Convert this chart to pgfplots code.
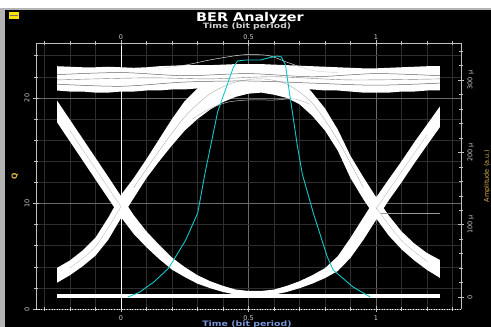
\documentclass[border=0pt]{standalone}
\usepackage{fontspec}
\setmainfont{DejaVu Sans}
\usepackage{pgfplots}
\pgfplotsset{compat=1.18}
\usepackage{pgfplotstable}
\usepgfplotslibrary{fillbetween}
\definecolor{framegray}{HTML}{C0C0C0}
\definecolor{labgray}{HTML}{D0D0D0}
\definecolor{mingrid}{HTML}{2E2E2E}
\definecolor{majgrid}{HTML}{6A6A6A}
\definecolor{cyanline}{HTML}{10C8C8}
\definecolor{gold}{HTML}{E0B848}
\definecolor{timeblue}{HTML}{7896D8}
\definecolor{bordergray}{HTML}{B4B4B4}

% eye diagram bands: U (0->1 falling/rising), A (arch), R (ones rail); hi/lo edges in Q
\pgfplotstableread{
x     Uhi   Ulo   Ahi   Alo   Rhi   Rlo
-0.25 19.73 17.67 3.90  2.50  23.00 20.70
-0.20 17.93 15.87 4.60  3.20  22.95 20.60
-0.15 16.13 14.07 5.55  4.05  22.90 20.60
-0.10 14.33 12.27 6.75  5.05  22.90 20.50
-0.05 12.53 10.47 8.65  6.55  22.95 20.50
0.00  10.70 8.70  10.80 8.60  22.90 20.60
0.05  8.89  7.11  12.40 10.50 22.85 20.60
0.10  7.35  5.85  14.20 12.40 22.90 20.70
0.15  6.07  4.73  16.10 14.00 23.00 20.70
0.20  4.87  3.73  18.00 15.50 23.05 20.80
0.25  3.97  3.03  19.70 16.90 23.10 20.80
0.30  3.20  2.40  20.90 18.00 23.10 20.90
0.35  2.63  1.97  21.80 18.90 23.10 20.90
0.40  2.19  1.61  22.40 19.60 23.15 21.00
0.45  1.84  1.36  22.80 20.10 23.20 21.00
0.50  1.71  1.29  22.90 20.40 23.20 21.00
0.55  1.71  1.29  23.00 20.50 23.20 21.00
0.60  1.84  1.36  22.90 20.30 23.15 21.00
0.65  2.19  1.61  22.50 20.00 23.10 20.90
0.70  2.63  1.97  21.90 19.40 23.05 20.90
0.75  3.20  2.40  20.50 18.30 23.00 20.80
0.80  3.87  2.93  19.00 16.90 22.95 20.70
0.85  5.00  3.60  17.00 15.00 22.90 20.70
0.90  6.75  4.85  14.50 12.40 22.85 20.60
0.95  8.66  6.54  12.50 10.40 22.80 20.50
1.00  10.56 8.44  10.60 8.60  22.80 20.50
1.05  12.30 10.30 8.85  6.95  22.85 20.50
1.10  14.00 12.00 7.35  5.65  22.90 20.60
1.15  15.80 13.80 6.20  4.60  22.95 20.60
1.20  17.48 15.52 5.30  3.70  23.00 20.70
1.25  19.18 17.22 4.65  2.95  23.00 20.70
}\eye

\pagecolor{black}
\begin{document}
\begin{tikzpicture}
\fill[white] (0,319pt) rectangle (491pt,327pt);
\fill[bordergray] (0,317pt) rectangle (491pt,319pt);
\fill[bordergray] (0,0) rectangle (5pt,319pt);
\fill[yellow!85!orange] (9pt,308pt) rectangle (19pt,315pt);
\draw[black!55, line width=0.8pt] (10pt,311.5pt) -- (18pt,311.5pt);

\begin{axis}[
  at={(36pt,18pt)}, anchor=south west, scale only axis,
  width=425pt, height=266pt,
  xmin=-0.333, xmax=1.333, ymin=0, ymax=25.2,
  clip=false,
  axis background/.style={fill=black},
  axis line style={draw=none},
  xtick={0,0.5,1}, xticklabels={0,0.5,1},
  minor xtick={-0.3,-0.2,-0.1,0.1,0.2,0.3,0.4,0.6,0.7,0.8,0.9,1.1,1.2,1.3},
  ytick={0,10,20}, yticklabels={0,10,20},
  minor ytick={2,4,6,8,12,14,16,18,22,24},
  xtick pos=left, ytick pos=left,
  grid=both,
  major grid style={majgrid, line width=0.5pt},
  minor grid style={mingrid, line width=0.5pt},
  tick align=center, major tick length=6pt, minor tick length=3.5pt,
  tick style={framegray, line width=0.5pt},
  xticklabel style={font=\fontsize{6.5}{7}\selectfont, text=labgray},
  yticklabel style={font=\fontsize{6.5}{7}\selectfont, text=labgray, rotate=90, anchor=south},
]
\draw[white, line width=0.8pt] (axis cs:0,0) -- (axis cs:0,25.2);

\addplot[draw=none, name path=rhi, forget plot] table[x=x,y=Rhi]{\eye};
\addplot[draw=none, name path=rlo, forget plot] table[x=x,y=Rlo]{\eye};
\addplot[white, forget plot] fill between[of=rhi and rlo];

\addplot[draw=none, name path=ahi, forget plot] table[x=x,y=Ahi]{\eye};
\addplot[draw=none, name path=alo, forget plot] table[x=x,y=Alo]{\eye};
\addplot[white, forget plot] fill between[of=ahi and alo];

\addplot[draw=none, name path=uhi, forget plot] table[x=x,y=Uhi]{\eye};
\addplot[draw=none, name path=ulo, forget plot] table[x=x,y=Ulo]{\eye};
\addplot[white, forget plot] fill between[of=uhi and ulo];

% texture streaks in the ones rail
\addplot[black, opacity=0.6, line width=0.5pt, smooth] coordinates {(-0.25,21.3) (0,21.1) (0.25,21.5) (0.5,21.6) (0.75,21.4) (1,21.2) (1.25,21.4)};
\addplot[black, opacity=0.6, line width=0.5pt, smooth] coordinates {(-0.25,22.2) (0,22.4) (0.25,22.1) (0.5,22.3) (0.75,22.0) (1,22.3) (1.25,22.1)};
\addplot[black, opacity=0.5, line width=0.4pt, smooth] coordinates {(-0.25,21.7) (0.1,21.9) (0.35,21.8) (0.6,22.0) (0.9,21.7) (1.25,21.8)};
% texture streaks in the arch and U bands
\addplot[black, opacity=0.35, line width=0.35pt, smooth] coordinates {(0.05,11.5) (0.15,15.0) (0.25,18.2) (0.35,20.4) (0.45,21.5) (0.55,21.8) (0.65,21.3) (0.75,19.5) (0.85,16.0) (0.95,11.5)};
\addplot[black, opacity=0.3, line width=0.3pt, smooth] coordinates {(-0.2,3.9) (-0.1,5.9) (0,9.7)};
\addplot[black, opacity=0.3, line width=0.3pt, smooth] coordinates {(-0.2,16.9) (-0.1,13.3) (0,9.7)};
\addplot[black, opacity=0.3, line width=0.3pt, smooth] coordinates {(1.0,9.5) (1.1,13.0) (1.2,16.5)};
\addplot[black, opacity=0.3, line width=0.3pt, smooth] coordinates {(1.0,9.6) (1.1,6.5) (1.2,4.5)};

% stray traces
\addplot[white!85!black, line width=0.5pt, smooth] coordinates {(0.15,22.8) (0.25,23.1) (0.35,23.6) (0.45,24.0) (0.5,24.1) (0.58,24.0) (0.66,23.3) (0.75,22.6) (0.85,22.4)};
\addplot[white!75!black, line width=0.5pt, smooth] coordinates {(0.28,18.0) (0.35,19.0) (0.42,19.6) (0.5,19.8) (0.6,19.8) (0.68,19.9) (0.74,19.4)};

% zeros rail
\addplot[white, line width=4.5pt] coordinates {(-0.25,1.23) (1.25,1.23)};
% threshold marker
\addplot[white!60!black, line width=0.6pt] coordinates {(1.02,9.1) (1.25,9.1)};

\draw[framegray, line width=0.8pt] (rel axis cs:0,0) -- (rel axis cs:0,1) -- (rel axis cs:1,1) -- (rel axis cs:1,0);
\draw[white, dotted, line width=0.6pt] (rel axis cs:0,0) -- (rel axis cs:1,0);
\end{axis}

\begin{axis}[
  at={(36pt,18pt)}, anchor=south west, scale only axis,
  width=425pt, height=266pt,
  xmin=-0.333, xmax=1.333, ymin=-16.6, ymax=351.3,
  axis line style={draw=none},
  xtick={0,0.5,1}, xticklabels={0,0.5,1},
  minor xtick={-0.3,-0.2,-0.1,0.1,0.2,0.3,0.4,0.6,0.7,0.8,0.9,1.1,1.2,1.3},
  xtick pos=right, xticklabel pos=right,
  ytick={0,100,200,300}, yticklabels={0,100 µ,200 µ,300 µ},
  minor ytick={20,40,60,80,120,140,160,180,220,240,260,280,320,340},
  ytick pos=right, yticklabel pos=right,
  tick align=center, major tick length=6pt, minor tick length=3.5pt,
  tick style={framegray, line width=0.5pt},
  xticklabel style={font=\fontsize{6.5}{7}\selectfont, text=labgray, inner sep=0.5pt, yshift=-0.5pt},
  yticklabel style={font=\fontsize{6.5}{7}\selectfont, text=labgray, rotate=90, anchor=north},
]
\addplot[cyanline, line width=0.9pt] coordinates {
(0.027,0) (0.07,6) (0.129,20.7) (0.1875,40.1) (0.254,78.8) (0.301,116.2) (0.330,172)
(0.379,255.9) (0.441,318.1) (0.457,326.4) (0.488,327.8) (0.547,327.8) (0.578,330.6)
(0.613,333.3) (0.629,332) (0.645,321) (0.656,293.2) (0.672,255.9) (0.691,210.2)
(0.711,170) (0.754,116.2) (0.809,55.3) (0.832,37.3) (0.910,13.8) (0.977,0)};
\end{axis}

\node[anchor=base, text=white, font=\fontsize{12}{14}\selectfont\bfseries, xscale=1.2] at (250pt,305pt) {BER Analyzer};
\node[anchor=base, inner sep=0pt, text=labgray, font=\fontsize{7.3}{9}\selectfont\bfseries, xscale=1.27] at (247pt,298pt) {Time (bit period)};
\node[anchor=base, text=timeblue, font=\fontsize{7.5}{9}\selectfont\bfseries, xscale=1.25] at (247pt,0.5pt) {Time (bit period)};
\node[rotate=90, text=gold, font=\fontsize{7.5}{8}\selectfont\bfseries] at (15pt,151pt) {Q};
\node[rotate=90, text=gold, font=\fontsize{6.5}{7}\selectfont] at (487pt,151pt) {Amplitude (a.u.)};
\pgfresetboundingbox
\path[use as bounding box] (0,0) rectangle (491pt,327pt);
\end{tikzpicture}
\end{document}
